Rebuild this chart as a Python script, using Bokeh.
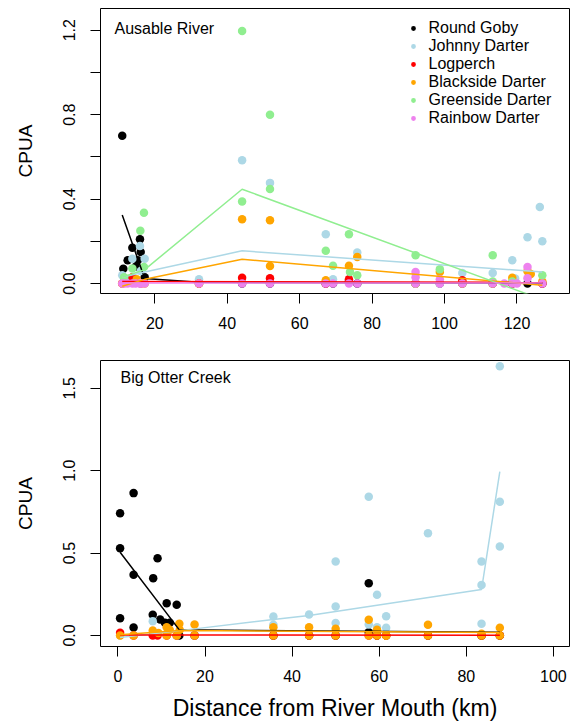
from bokeh.plotting import figure
from bokeh.layouts import column
from bokeh.models import Range1d, FixedTicker, Legend, LegendItem, Label, PrintfTickFormatter
from bokeh.embed import file_html
from bokeh.resources import INLINE

FONT = "Liberation Sans"

species = ["Round Goby", "Johnny Darter", "Logperch", "Blackside Darter",
           "Greenside Darter", "Rainbow Darter"]
colors = ["black", "lightblue", "red", "orange", "lightgreen", "violet"]

# ---------------- Ausable River ----------------
au_goby_x = [11.0, 11.3, 12.5, 13.8, 14.7, 15.3, 15.9, 16.1, 17.2, 32.2, 44.1, 51.8, 67.2, 69.2,
             73.6, 75.9, 92.0, 98.7, 104.9, 113.3, 118.7, 122.9, 127.0]
au_goby_y = [0.70, 0.07, 0.11, 0.17, 0.08, 0.11, 0.21, 0.15, 0.03, 0, 0, 0, 0, 0,
             0.01, 0, 0, 0, 0, 0, 0, 0, 0]

au_johnny_x = [11.0, 12.5, 13.8, 15.9, 16.1, 17.2, 32.2, 44.1, 51.8, 67.2, 69.2, 73.6, 75.9,
               92.0, 98.7, 104.9, 113.3, 118.7, 119.5, 122.9, 126.3, 127.0]
au_johnny_y = [0.04, 0.02, 0.118, 0.178, 0.06, 0.118, 0.02, 0.584, 0.477, 0.234, 0.02, 0.01, 0.147,
               0.0, 0.0, 0.05, 0.05, 0.11, 0.024, 0.22, 0.363, 0.20]

au_logperch_x = [11.0, 13.8, 16.1, 32.2, 44.1, 51.8, 67.2, 73.6, 92.0, 104.9, 118.7, 127.0]
au_logperch_y = [0.0, 0.03, 0.0, 0.0, 0.028, 0.025, 0.0, 0.02, 0.0, 0.016, 0.0, 0.0]

au_blackside_x = [11.0, 15.0, 17.2, 32.2, 44.1, 51.8, 51.8, 67.2, 73.6, 75.9, 92.0, 98.7,
                  104.9, 113.3, 118.7, 122.9, 123.8, 127.0]
au_blackside_y = [0.0, 0.02, 0.0, 0.0, 0.305, 0.30, 0.083, 0.016, 0.085, 0.126, 0.0, 0.055,
                  0.0, 0.0, 0.028, 0.058, 0.045, 0.01]

au_greenside_x = [11.5, 13.8, 16.0, 17.0, 17.0, 44.1, 44.1, 51.8, 51.8, 67.2, 69.2, 73.6, 73.9,
                  75.9, 92.0, 92.0, 98.7, 113.3, 113.3, 118.7, 127.0]
au_greenside_y = [0.03, 0.071, 0.25, 0.335, 0.079, 1.196, 0.389, 0.80, 0.448, 0.155, 0.085, 0.234,
                  0.055, 0.04, 0.134, 0.0, 0.068, 0.134, 0.01, 0.01, 0.04]

au_rainbow_x = [11.0, 11.6, 12.5, 13.8, 14.7, 15.9, 16.1, 17.2, 32.2, 44.1, 51.8, 67.2, 69.2,
                73.6, 75.9, 92.0, 92.0, 92.0, 98.7, 98.7, 104.9, 113.3, 116.5, 118.7, 120.0,
                122.9, 122.9, 127.0]
au_rainbow_y = [0, 0, 0, 0, 0, 0, 0, 0, 0, 0, 0, 0, 0,
                0, 0, 0, 0.055, 0.03, 0, 0.02, 0, 0, 0, 0, 0,
                0.079, 0.025, 0]

# fitted lines, Ausable
au_fit_goby_x = [11.0, 17.2, 32.2, 127.0]
au_fit_goby_y = [0.325, 0.024, 0.006, 0.002]
au_fit_johnny_x = [11.0, 17.2, 44.1, 127.0]
au_fit_johnny_y = [0.03, 0.055, 0.155, 0.055]
au_fit_logperch_x = [11.0, 127.0]
au_fit_logperch_y = [0.01, 0.006]
au_fit_blackside_x = [11.0, 17.2, 44.1, 127.0]
au_fit_blackside_y = [-0.013, 0.02, 0.115, -0.008]
au_fit_greenside_x = [11.0, 17.2, 44.1, 127.0]
au_fit_greenside_y = [0.03, 0.066, 0.447, -0.076]
au_fit_rainbow_x = [11.0, 127.0]
au_fit_rainbow_y = [0.003, 0.003]

# ---------------- Big Otter Creek ----------------
bo_goby_x = [0.5, 0.5, 0.5, 3.6, 3.6, 3.6, 8.0, 8.1, 9.1, 9.7, 10.8, 11.2, 11.9, 13.5, 14.1,
             17.6, 35.7, 43.9, 50.0, 57.6, 57.6, 59.5, 61.6, 71.2, 83.5, 87.7]
bo_goby_y = [0.742, 0.53, 0.105, 0.864, 0.368, 0.049, 0.125, 0.348, 0.469, 0.097, 0.077, 0.196,
             0.077, 0.186, 0.0, 0.0, 0.0, 0.0, 0.0, 0.317, 0.02, 0.0, 0.0, 0.0, 0.0, 0.0]

bo_johnny_x = [0.5, 8.0, 13.5, 17.6, 35.7, 35.7, 43.9, 50.0, 50.0, 50.0, 57.6, 57.6, 59.5, 59.5,
               61.6, 61.6, 71.2, 83.5, 83.5, 83.5, 87.7, 87.7, 87.7]
bo_johnny_y = [0.0, 0.087, 0.0, 0.0, 0.115, 0.065, 0.127, 0.449, 0.176, 0.075, 0.842, 0.067,
               0.247, 0.05, 0.117, 0.047, 0.621, 0.449, 0.307, 0.071, 1.634, 0.811, 0.54]

bo_logperch_x = [0.5, 3.6, 8.0, 9.1, 11.2, 13.5, 17.6, 35.7, 43.9, 50.0, 57.6, 59.5, 61.6,
                 71.2, 83.5, 87.7]
bo_logperch_y = [0.016, 0, 0, 0, 0, 0, 0, 0, 0, 0, 0, 0, 0, 0, 0, 0]

bo_blackside_x = [0.5, 3.6, 8.0, 9.3, 11.2, 11.9, 11.2, 14.1, 14.2, 13.5, 17.6, 17.6, 35.7, 35.7,
                  43.9, 43.9, 50.0, 50.0, 57.6, 57.6, 59.5, 59.5, 61.6, 61.6, 71.2, 71.2,
                  83.5, 83.5, 87.7, 87.7]
bo_blackside_y = [0.0, 0.0, 0.03, 0.015, 0.05, 0.034, 0.0, 0.071, 0.034, 0.0, 0.067, 0.0, 0.05,
                  0.0, 0.05, 0.0, 0.04, 0.0, 0.095, 0.0, 0.035, 0.0, 0.0, 0.0, 0.065, 0.0,
                  0.01, 0.0, 0.047, 0.0]

bo_fit_goby_x = [0.5, 14.1, 87.7]
bo_fit_goby_y = [0.505, 0.034, 0.02]
bo_fit_johnny_x = [0.5, 17.6, 35.7, 43.9, 83.5, 87.7]
bo_fit_johnny_y = [-0.012, 0.04, 0.097, 0.121, 0.279, 0.995]
bo_fit_logperch_x = [0.5, 87.7]
bo_fit_logperch_y = [0.003, 0.002]
bo_fit_blackside_x = [0.5, 14.1, 87.7]
bo_fit_blackside_y = [0.004, 0.03, 0.018]

au_xticks = [20, 40, 60, 80, 100, 120]
au_yticks = [0.0, 0.4, 0.8, 1.2]
au_yminor = [0.2, 0.6, 1.0]
bo_xticks = [0, 20, 40, 60, 80, 100]
bo_yticks = [0.0, 0.5, 1.0, 1.5]


def style_axes(p, xticks, yticks, yminor):
    p.xaxis.ticker = FixedTicker(ticks=xticks, minor_ticks=[])
    p.yaxis.ticker = FixedTicker(ticks=yticks, minor_ticks=yminor)
    p.yaxis.formatter = PrintfTickFormatter(format="%.1f")
    for ax in (p.xaxis, p.yaxis):
        ax.axis_line_color = None
        ax.major_tick_line_color = "black"
        ax.minor_tick_line_color = "black"
        ax.major_tick_out = 10
        ax.major_tick_in = 0
        ax.minor_tick_out = 10
        ax.minor_tick_in = 0
        ax.major_label_text_font = FONT
        ax.major_label_text_font_size = "16px"
        ax.major_label_text_color = "black"
        ax.axis_label_text_font = FONT
        ax.axis_label_text_font_style = "normal"
        ax.axis_label_text_color = "black"
    p.xaxis.major_label_standoff = 13
    p.yaxis.major_label_standoff = 15
    p.yaxis.major_label_orientation = "vertical"
    p.yaxis.axis_label = "CPUA"
    p.yaxis.axis_label_text_font_size = "19px"
    p.yaxis.axis_label_standoff = 25
    p.xgrid.visible = False
    p.ygrid.visible = False
    p.outline_line_color = "black"
    p.outline_line_width = 1
    p.outline_line_alpha = 1


# ---------- top panel ----------
p1 = figure(width=583, height=335, output_backend="svg", toolbar_location=None,
            x_range=Range1d(5.0, 134.5), y_range=Range1d(-0.047, 1.303),
            min_border_left=100, min_border_right=14, min_border_top=8, min_border_bottom=42)
style_axes(p1, au_xticks, au_yticks, au_yminor)

au_pts = [(au_goby_x, au_goby_y), (au_johnny_x, au_johnny_y), (au_logperch_x, au_logperch_y),
          (au_blackside_x, au_blackside_y), (au_greenside_x, au_greenside_y),
          (au_rainbow_x, au_rainbow_y)]
au_fits = [(au_fit_goby_x, au_fit_goby_y), (au_fit_johnny_x, au_fit_johnny_y),
           (au_fit_logperch_x, au_fit_logperch_y), (au_fit_blackside_x, au_fit_blackside_y),
           (au_fit_greenside_x, au_fit_greenside_y), (au_fit_rainbow_x, au_fit_rainbow_y)]
pt_renderers = []
for (xs, ys), c in zip(au_pts, colors):
    pt_renderers.append(p1.scatter(xs, ys, size=8.5, color=c, line_color=None))
for (xs, ys), c in zip(au_fits, colors):
    p1.line(xs, ys, line_color=c, line_width=1.5)

items = [LegendItem(label=name, renderers=[r]) for name, r in zip(species, pt_renderers)]
legend = Legend(items=items, location=(306.5, 166), border_line_color=None,
                background_fill_alpha=0, padding=0, margin=0, spacing=0,
                glyph_width=12, glyph_height=18, label_height=18, label_standoff=10,
                label_text_font_size="16px", label_text_font=FONT, label_text_color="black")
p1.add_layout(legend)
p1.add_layout(Label(x=14, y=265, x_units="screen", y_units="screen", text="Ausable River",
                    text_baseline="middle", text_font_size="16px", text_font=FONT,
                    text_color="black"))

# ---------- bottom panel ----------
p2 = figure(width=583, height=390, output_backend="svg", toolbar_location=None,
            x_range=Range1d(-4.0, 103.7), y_range=Range1d(-0.067, 1.669),
            min_border_left=100, min_border_right=11, min_border_top=25, min_border_bottom=79)
style_axes(p2, bo_xticks, bo_yticks, [])
p2.xaxis.axis_label = "Distance from River Mouth (km)"
p2.xaxis.axis_label_text_font_size = "23px"
p2.xaxis.axis_label_standoff = 10

bo_pts = [(bo_goby_x, bo_goby_y), (bo_johnny_x, bo_johnny_y),
          (bo_logperch_x, bo_logperch_y), (bo_blackside_x, bo_blackside_y)]
bo_fits = [(bo_fit_goby_x, bo_fit_goby_y), (bo_fit_johnny_x, bo_fit_johnny_y),
           (bo_fit_logperch_x, bo_fit_logperch_y), (bo_fit_blackside_x, bo_fit_blackside_y)]
for (xs, ys), c in zip(bo_pts, colors[:4]):
    p2.scatter(xs, ys, size=8.5, color=c, line_color=None)
for (xs, ys), c in zip(bo_fits, colors[:4]):
    p2.line(xs, ys, line_color=c, line_width=1.5)
p2.add_layout(Label(x=20, y=269, x_units="screen", y_units="screen", text="Big Otter Creek",
                    text_baseline="middle", text_font_size="16px", text_font=FONT,
                    text_color="black"))

layout = column(p1, p2, spacing=0)
open("out.html", "w").write(file_html(layout, INLINE))
